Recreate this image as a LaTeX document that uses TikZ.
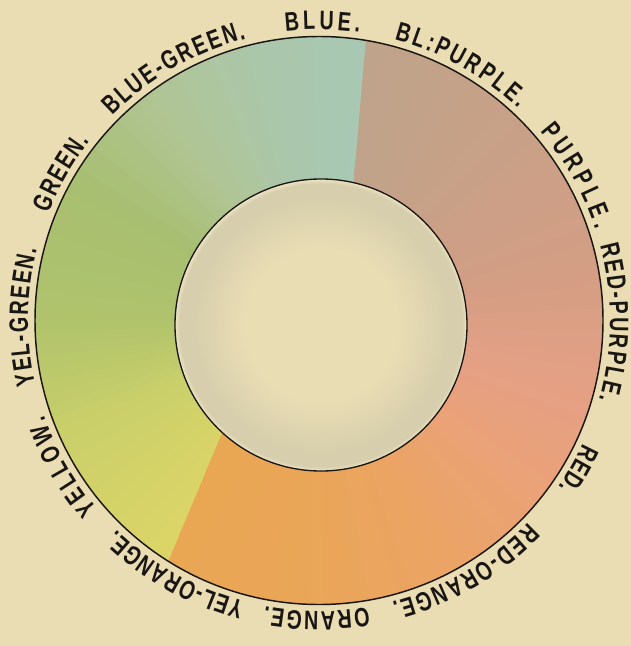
\documentclass[tikz,border=0pt]{standalone}
\usepackage{fontspec}
\usetikzlibrary{decorations.text}
\newfontfamily\wheelfont[FakeStretch=0.74]{Liberation Sans}

\definecolor{paper}{RGB}{234,221,179}
\definecolor{ink}{RGB}{25,22,20}
\definecolor{c01}{RGB}{232,167,82}
\definecolor{c02}{RGB}{234,166,87}
\definecolor{c03}{RGB}{235,164,99}
\definecolor{c04}{RGB}{235,162,118}
\definecolor{c05}{RGB}{229,160,133}
\definecolor{c06}{RGB}{212,158,132}
\definecolor{c07}{RGB}{201,160,135}
\definecolor{c08}{RGB}{189,164,139}
\definecolor{c09}{RGB}{167,201,182}
\definecolor{c10}{RGB}{170,199,173}
\definecolor{c11}{RGB}{176,197,150}
\definecolor{c12}{RGB}{168,191,113}
\definecolor{c13}{RGB}{176,195,108}
\definecolor{c14}{RGB}{203,208,106}
\definecolor{c15}{RGB}{224,214,102}
\definecolor{discmid}{RGB}{233,221,180}
\definecolor{discgrey}{RGB}{214,206,172}
\definecolor{discrim}{RGB}{238,228,196}

\pgfdeclareradialshading{discshade}{\pgfpointorigin}{color(0bp)=(discmid); color(13bp)=(discmid); color(22bp)=(discgrey); color(24.2bp)=(discgrey); color(25bp)=(discrim); color(50bp)=(discrim)}

\tikzset{
  hue label/.style={decorate, decoration={text along path, text={|\wheelfont\bfseries\fontsize{20}{24}\selectfont|#1}, text color=ink, text align={fit to path}}},
}

\begin{document}
\begin{tikzpicture}[x=0.75pt,y=0.75pt,yscale=-1,xscale=1]
\useasboundingbox (0,0) rectangle (631,646);
%Shape: Rectangle
\fill [color=paper] (0,0) rectangle (631,646);

\begin{scope}[shift={(319,320.5)}]
% cool half of the ring: yellow, green, blue
\foreach \a/\b/\ca/\cb in {-245/-205/c15/c14, -205/-180/c14/c13, -180/-150/c13/c12, -150/-125/c12/c11, -125/-100/c11/c10, -100/-70/c10/c09}{
  \foreach \k in {0,...,9}{
    \pgfmathsetmacro{\s}{\a+(\b-\a)*\k/10}
    \pgfmathsetmacro{\e}{\a+(\b-\a)*(\k+1)/10+0.4}
    \pgfmathtruncatemacro{\p}{95-10*\k}
    \fill [color=\ca!\p!\cb] (0,0) -- (\s:284) arc [start angle=\s, end angle=\e, radius=284] -- cycle ;
  }
}
% warm half of the ring: purple, red, orange
\begin{scope}
\clip (33,-120.5) -- (49.5,-310) -- (330,-330) -- (330,330) -- (-165,275) -- (-94,105.5) -- cycle ;
\foreach \a/\b/\ca/\cb in {-86/-40/c08/c07, -40/-10/c07/c06, -10/15/c06/c05, 15/40/c05/c04, 40/65/c04/c03, 65/95/c03/c02, 95/140/c02/c01}{
  \foreach \k in {0,...,9}{
    \pgfmathsetmacro{\s}{\a+(\b-\a)*\k/10}
    \pgfmathsetmacro{\e}{\a+(\b-\a)*(\k+1)/10+0.4}
    \pgfmathtruncatemacro{\p}{95-10*\k}
    \fill [color=\ca!\p!\cb] (0,0) -- (\s:284) arc [start angle=\s, end angle=\e, radius=284] -- cycle ;
  }
}
\end{scope}

%Shape: Circle
\shade [shading=discshade] (2,4.5) circle [radius=146] ;
\draw [color=ink, line width=1pt] (2,4.5) circle [radius=146] ;
%Shape: Circle
\draw [color=ink, line width=1.1pt] (0,0) circle [radius=284] ;

% Text on arcs
\path [hue label=BLUE.] (-96.6:291) arc [start angle=-96.6, end angle=-82, radius=291] ;
\path [hue label=BL:PURPLE.] (-75:291) arc [start angle=-75, end angle=-46.7, radius=291] ;
\path [hue label=PURPLE.] (-40.5:291) arc [start angle=-40.5, end angle=-18.2, radius=291] ;
\path [hue label=RED-PURPLE.] (-15:291) arc [start angle=-15, end angle=15.8, radius=291] ;
\path [hue label=RED.] (25:291) arc [start angle=25, end angle=34.8, radius=291] ;
\path [hue label=RED-ORANGE.] (44:291) arc [start angle=44, end angle=75.5, radius=291] ;
\path [hue label=ORANGE.] (80.3:291) arc [start angle=80.3, end angle=100.7, radius=291] ;
\path [hue label=YEL-ORANGE.] (104.8:291) arc [start angle=104.8, end angle=134, radius=291] ;
\path [hue label=YELLOW.] (139.7:291) arc [start angle=139.7, end angle=161, radius=291] ;
\path [hue label=YEL-GREEN.] (167.3:291) arc [start angle=167.3, end angle=194.2, radius=291] ;
\path [hue label=GREEN.] (201.6:291) arc [start angle=201.6, end angle=218.1, radius=291] ;
\path [hue label=BLUE-GREEN.] (224.8:291) arc [start angle=224.8, end angle=255.5, radius=291] ;
\end{scope}

\end{tikzpicture}
\end{document}
